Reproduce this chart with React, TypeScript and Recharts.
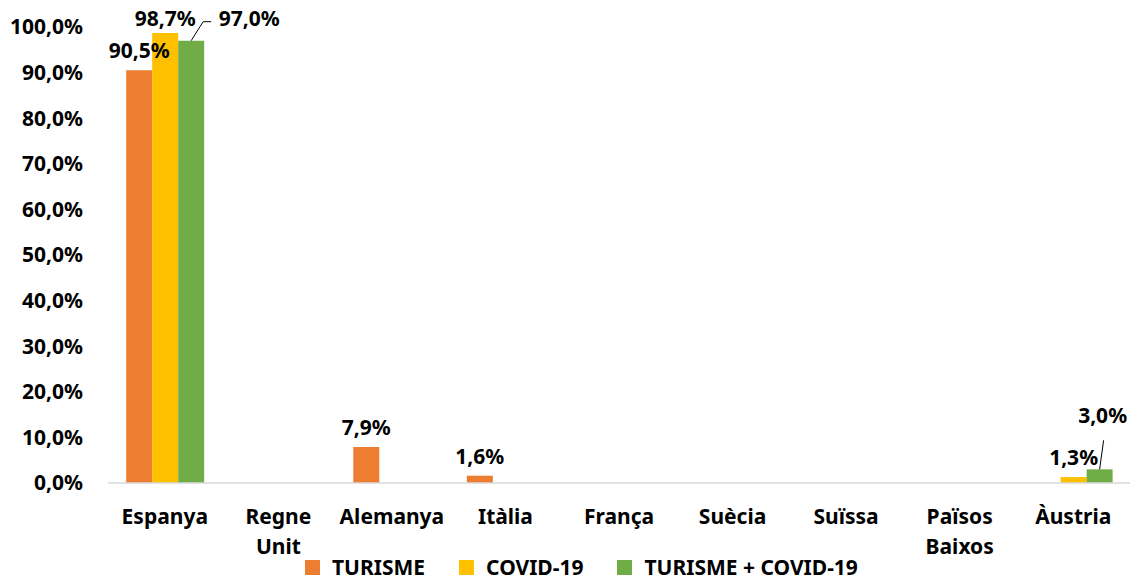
import { BarChart, Bar, XAxis, YAxis, LabelList } from "recharts";

const countries = [
  "Espanya",
  "Regne Unit",
  "Alemanya",
  "Itàlia",
  "França",
  "Suècia",
  "Suïssa",
  "Països Baixos",
  "Àustria",
];
const turisme = [90.5, 0, 7.9, 1.6, 0, 0, 0, 0, 0];
const covid = [98.7, 0, 0, 0, 0, 0, 0, 0, 1.3];
const turismeCovid = [97.0, 0, 0, 0, 0, 0, 0, 0, 3.0];
const yTicks = [0, 10, 20, 30, 40, 50, 60, 70, 80, 90, 100];

const series = [
  { key: "turisme", name: "TURISME", color: "#ED7D31" },
  { key: "covid", name: "COVID-19", color: "#FFC000" },
  { key: "turismeCovid", name: "TURISME + COVID-19", color: "#70AD47" },
];

const data = countries.map((c, i) => ({
  country: c,
  turisme: turisme[i],
  covid: covid[i],
  turismeCovid: turismeCovid[i],
}));

const FONT = "'Noto Sans', sans-serif";
const FS = 21;
const FW = 700;
const pct = (v: number) => `${v.toFixed(1).replace(".", ",")}%`;

// plot geometry (used only to find a label's category)
const PLOT_LEFT = 108;
const PLOT_RIGHT = 1130;
const CAT_W = (PLOT_RIGHT - PLOT_LEFT) / countries.length;

// callout labels (green series): offset from bar top
const callouts: Record<string, { dx: number; dy: number; side: boolean }> = {
  Espanya: { dx: 58, dy: -23, side: true },
  "Àustria": { dx: 3, dy: -54, side: false },
};

function makeLabel(withCallouts: boolean) {
  return (props: any) => {
    const { x, y, width, value } = props;
    if (!value) return null;
    const cx = Number(x) + Number(width) / 2;
    const top = Number(y);
    const idx = Math.floor((cx - PLOT_LEFT) / CAT_W);
    const c = withCallouts ? callouts[countries[idx]] : undefined;
    if (c) {
      const lx = cx + c.dx;
      const ly = top + c.dy;
      return (
        <g>
          {c.side ? (
            <polyline
              points={`${cx},${top} ${cx + 12},${ly + 4} ${cx + 20},${ly + 4}`}
              fill="none"
              stroke="#000"
              strokeWidth={1}
            />
          ) : (
            <line x1={cx} y1={top} x2={cx + 4} y2={ly + 25} stroke="#000" strokeWidth={1} />
          )}
          <text
            x={lx}
            y={ly}
            textAnchor="middle"
            dominantBaseline="central"
            fontFamily={FONT}
            fontSize={FS}
            fontWeight={FW}
            fill="#000"
          >
            {pct(value)}
          </text>
        </g>
      );
    }
    return (
      <text
        x={cx}
        y={Math.max(top - 20, 18)}
        textAnchor="middle"
        dominantBaseline="central"
        fontFamily={FONT}
        fontSize={FS}
        fontWeight={FW}
        fill="#000"
      >
        {pct(value)}
      </text>
    );
  };
}

function CountryTick(props: any) {
  const { x, y, payload } = props;
  const lines = String(payload.value).split(" ");
  return (
    <g transform={`translate(${x},${y})`}>
      {lines.map((l, i) => (
        <text
          key={i}
          x={0}
          y={25 + i * 30}
          textAnchor="middle"
          dominantBaseline="central"
          fontFamily={FONT}
          fontSize={FS}
          fontWeight={FW}
          fill="#000"
        >
          {l}
        </text>
      ))}
    </g>
  );
}

export default function App() {
  return (
    <div style={{ position: "absolute", left: 0, top: 0, width: 1134, height: 580, background: "#fff" }}>
      <BarChart
        width={1134}
        height={580}
        data={data}
        margin={{ top: 27, right: 4, left: 0, bottom: 37 }}
        barCategoryGap="16%"
        barGap={0}
      >
        <XAxis
          dataKey="country"
          height={60}
          tickLine={false}
          axisLine={{ stroke: "#D9D9D9", strokeWidth: 1.5 }}
          tick={<CountryTick />}
          interval={0}
        />
        <YAxis
          width={108}
          domain={[0, 100]}
          ticks={yTicks}
          tickFormatter={pct}
          axisLine={false}
          tickLine={false}
          tickMargin={19}
          tick={{ fontFamily: FONT, fontSize: FS, fontWeight: FW, fill: "#000" }}
        />
        {series.map((s) => (
          <Bar key={s.key} dataKey={s.key} name={s.name} fill={s.color} isAnimationActive={false}>
            <LabelList dataKey={s.key} content={makeLabel(s.key === "turismeCovid")} />
          </Bar>
        ))}
      </BarChart>
      <div
        style={{
          position: "absolute",
          left: 305,
          top: 555,
          display: "flex",
          alignItems: "center",
          fontFamily: FONT,
          fontSize: FS,
          fontWeight: FW,
          color: "#000",
          lineHeight: "24px",
        }}
      >
        {series.map((s) => (
          <div key={s.key} style={{ display: "flex", alignItems: "center", marginRight: 34 }}>
            <span style={{ width: 15, height: 15, background: s.color, display: "inline-block", marginRight: 12 }} />
            <span>{s.name}</span>
          </div>
        ))}
      </div>
    </div>
  );
}
